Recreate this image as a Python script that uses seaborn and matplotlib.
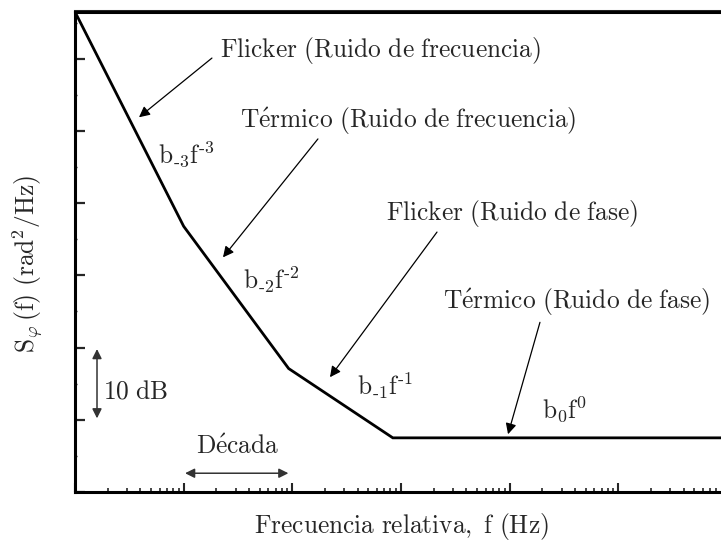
import numpy as np
import pandas as pd
import matplotlib
matplotlib.use("Agg")
import matplotlib.pyplot as plt
import seaborn as sns
from matplotlib.ticker import LogLocator, MultipleLocator, NullFormatter

# Asymptotic phase-noise spectrum: corner frequencies (Hz) and levels (dB)
freq_hz = [1.0, 10.0, 92.5, 841.0, 1.0e6]
level_db = [66.5, 36.8, 17.1, 7.5, 7.5]

# Noise-process labels and power-law terms
process_labels = [
    "Flicker (Ruido de frecuencia)",
    "Térmico (Ruido de frecuencia)",
    "Flicker (Ruido de fase)",
    "Térmico (Ruido de fase)",
]
power_terms = [r"b_{\text{-3}}f^{\text{-3}}", r"b_{\text{-2}}f^{\text{-2}}",
               r"b_{\text{-1}}f^{\text{-1}}", r"b_{\text{0}}f^{\text{0}}"]

x_label = "Frecuencia relativa, f (Hz)"
y_label = r"S_{\varphi}\,(f)\ (rad^{2}/Hz)"
decade_label = "Década"
step_label = "10 dB"

sns.set_style("ticks")
plt.rcParams["mathtext.fontset"] = "cm"
plt.rcParams["font.family"] = ["DejaVu Serif"]


def tex(s):
    """Set plain text in Computer Modern through mathtext."""
    s = s.replace("é", r"\acute{e}").replace(" ", r"\ ")
    return r"$\mathrm{" + s + "}$"


FS = 18.3
fig = plt.figure(figsize=(7.21, 5.47), dpi=100)
ax = fig.add_axes([75 / 721, 1 - 492 / 547, 652 / 721, (492 - 11.5) / 547])

df = pd.DataFrame({"f": freq_hz, "S": level_db})
sns.lineplot(data=df, x="f", y="S", ax=ax, color="black", lw=2.0,
             estimator=None, sort=False, solid_joinstyle="miter")

ax.set_xscale("log")
ax.set_xlim(1.0, 1.0e6)
ax.set_ylim(0, 66.55)

# frame and ticks
for side in ["left", "bottom", "top"]:
    ax.spines[side].set_linewidth(2.2)
    ax.spines[side].set_color("black")
ax.spines["right"].set_visible(False)

ax.xaxis.set_major_locator(LogLocator(base=10, numticks=10))
ax.xaxis.set_minor_locator(LogLocator(base=10, subs=np.arange(2, 10), numticks=20))
ax.xaxis.set_major_formatter(NullFormatter())
ax.xaxis.set_minor_formatter(NullFormatter())
ax.yaxis.set_major_locator(MultipleLocator(10))
ax.yaxis.set_minor_locator(MultipleLocator(5))
ax.yaxis.set_major_formatter(NullFormatter())

ax.tick_params(axis="x", which="major", direction="in", length=6.5, width=1.5,
               bottom=True, top=False)
ax.tick_params(axis="x", which="minor", direction="in", length=3.0, width=1.2,
               bottom=True, top=False)
ax.tick_params(axis="y", which="major", direction="in", length=7.5, width=1.6,
               left=True, right=False)
ax.tick_params(axis="y", which="minor", direction="in", length=1.5, width=1.0,
               left=True, right=False)

top = ax.secondary_xaxis("top")
top.xaxis.set_major_locator(LogLocator(base=10, numticks=10))
top.xaxis.set_minor_locator(LogLocator(base=10, subs=np.arange(2, 10), numticks=20))
top.xaxis.set_major_formatter(NullFormatter())
top.xaxis.set_minor_formatter(NullFormatter())
top.tick_params(which="both", direction="in", length=1.5, width=0.6, colors="#777777")
top.spines["top"].set_linewidth(2.2)

ax.set_xlabel(tex(x_label), fontsize=FS, labelpad=10)
ax.set_ylabel(r"$\mathrm{" + y_label + "}$", fontsize=FS)
ax.yaxis.set_label_coords(-0.045, 0.475)

# process labels with arrows pointing to their segment
arrow_kw = dict(arrowstyle="-|>", color="black", lw=0.9, mutation_scale=16,
                shrinkA=0, shrinkB=0)
text_pos = [(21.6, 61.2), (33.0, 51.4), (728, 38.6), (2433, 26.3)]
tails = [(18.2, 60.1), (172, 48.9), (2144, 36.0), (19000, 23.5)]
heads = [(3.88, 51.9), (23.0, 32.5), (222, 15.9), (9660, 8.0)]
for lab, tp, tl, hd in zip(process_labels, text_pos, tails, heads):
    ax.text(tp[0], tp[1], tex(lab), fontsize=FS, ha="left", va="center")
    ax.annotate("", xy=hd, xytext=tl, arrowprops=arrow_kw)

term_pos = [(5.80, 46.7), (35.2, 29.4), (394, 14.7), (19830, 11.4)]
for term, tp in zip(power_terms, term_pos):
    ax.text(tp[0], tp[1], r"$\mathrm{" + term + "}$", fontsize=FS,
            ha="left", va="center")

# scale indicators
span_kw = dict(arrowstyle="<|-|>", color="#333333", lw=1.1, mutation_scale=14,
               shrinkA=0, shrinkB=0)
ax.annotate("", xy=(1.594, 19.8), xytext=(1.594, 10.2), arrowprops=span_kw)
ax.text(1.81, 13.85, tex(step_label), fontsize=FS, ha="left", va="center")
ax.annotate("", xy=(10.3, 2.6), xytext=(92.0, 2.6), arrowprops=span_kw)
ax.text(31.6, 6.2, tex(decade_label), fontsize=FS, ha="center", va="center")

fig.savefig("out.png", dpi=100)
